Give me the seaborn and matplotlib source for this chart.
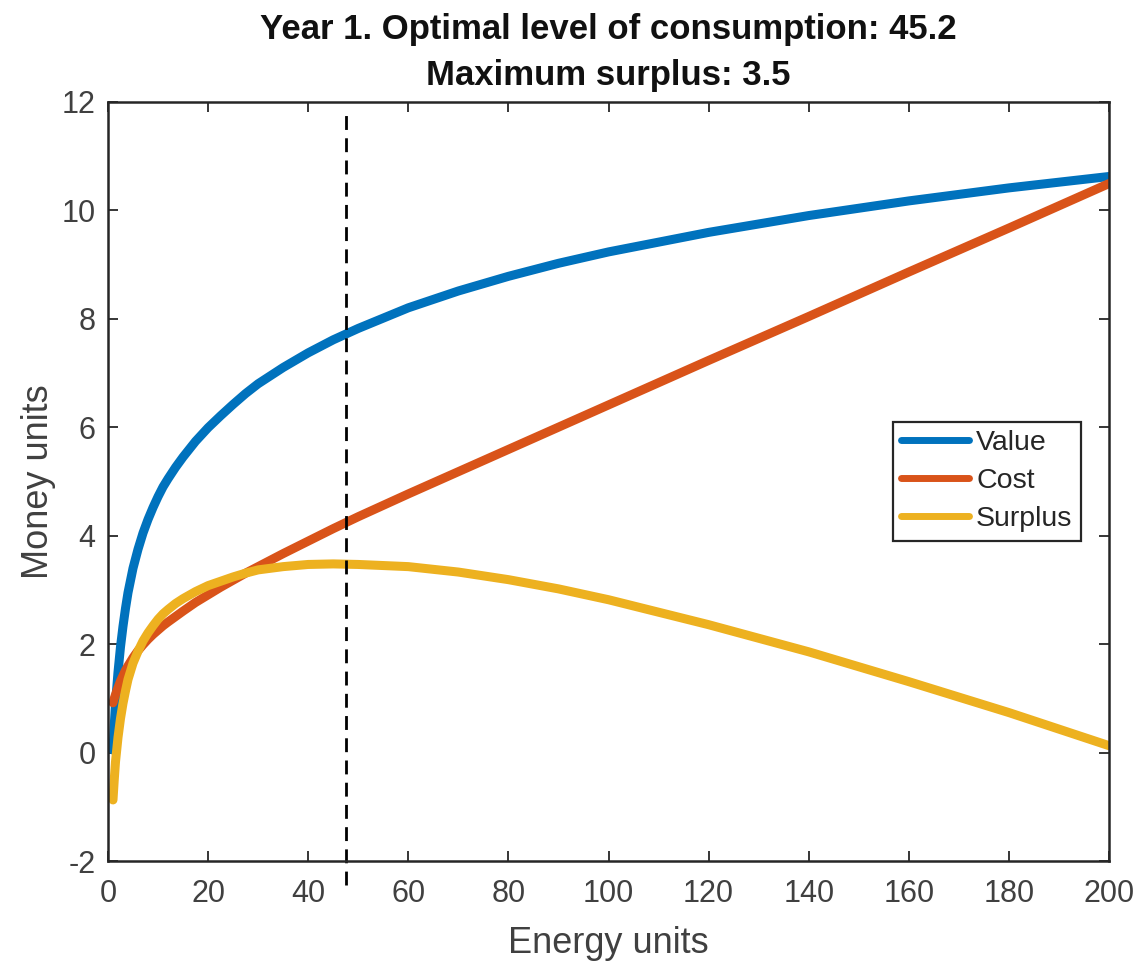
import matplotlib
matplotlib.use("Agg")
import matplotlib.pyplot as plt
import pandas as pd
import seaborn as sns

# values
energy = [1, 1.25, 1.5, 2, 2.5, 3, 3.5, 4, 5, 6, 7, 8, 9, 10, 11, 12, 13.5, 15,
          17.5, 20, 22.5, 25, 27.5, 30, 35, 40, 45, 50, 60, 70, 80, 90, 100,
          120, 140, 160, 180, 200]
value = [0.05, 0.5, 0.9, 1.48, 1.95, 2.33, 2.66, 2.95, 3.4, 3.75, 4.05, 4.3,
         4.52, 4.72, 4.9, 5.05, 5.26, 5.45, 5.74, 5.99, 6.21, 6.42, 6.62, 6.8,
         7.1, 7.37, 7.61, 7.82, 8.2, 8.51, 8.78, 9.02, 9.23, 9.59, 9.9, 10.17,
         10.41, 10.62]
cost = [0.92, 1.0, 1.07, 1.2, 1.32, 1.42, 1.52, 1.6, 1.75, 1.88, 1.99, 2.09,
        2.18, 2.26, 2.34, 2.41, 2.51, 2.61, 2.77, 2.91, 3.05, 3.18, 3.31, 3.43,
        3.67, 3.9, 4.13, 4.35, 4.77, 5.18, 5.59, 6.0, 6.41, 7.23, 8.04, 8.86,
        9.67, 10.49]
surplus = [-0.87, -0.5, -0.17, 0.28, 0.63, 0.91, 1.14, 1.35, 1.65, 1.87, 2.06,
           2.21, 2.34, 2.46, 2.56, 2.64, 2.75, 2.84, 2.97, 3.08, 3.16, 3.24,
           3.31, 3.37, 3.43, 3.47, 3.48, 3.47, 3.43, 3.33, 3.19, 3.02, 2.82,
           2.36, 1.86, 1.31, 0.74, 0.13]

series_names = ["Value", "Cost", "Surplus"]
series_colors = ["#0072BD", "#D95319", "#EDB120"]
optimum_x = 47.6
title_lines = ["Year 1. Optimal level of consumption: 45.2", "Maximum surplus: 3.5"]
x_ticks = list(range(0, 201, 20))
y_ticks = list(range(-2, 13, 2))

# long form table for seaborn
frames = []
for name, vals in zip(series_names, [value, cost, surplus]):
    frames.append(pd.DataFrame({"energy": energy, "money": vals, "series": name}))
df = pd.concat(frames, ignore_index=True)

sns.set_theme(style="ticks")
plt.rcParams['font.family'] = ['Liberation Sans', 'DejaVu Sans']
plt.rcParams['axes.unicode_minus'] = False

fig = plt.figure(figsize=(11.39, 9.65), dpi=100)
ax = fig.add_axes([0.0948, 0.1075, 0.8789, 0.7872])

sns.lineplot(data=df, x="energy", y="money", hue="series", hue_order=series_names,
             palette=series_colors, linewidth=6.5, sort=False, ax=ax)

# optimum marker, runs a little past the axes like the original
ax.axvline(optimum_x, ymin=-0.031, ymax=0.983, color="black", lw=2,
           ls=(0, (5, 3)), clip_on=False)

ax.set_xlim(0, 200)
ax.set_ylim(-2, 12)
ax.set_xticks(x_ticks)
ax.set_yticks(y_ticks)
ax.tick_params(direction="in", top=True, right=True, length=7, width=1.3,
               color="#262626", labelsize=22, labelcolor="#404040")
ax.tick_params(axis="x", pad=13)
ax.tick_params(axis="y", pad=9)
for s in ax.spines.values():
    s.set_color("#262626")
    s.set_linewidth(1.8)

ax.set_xlabel("Energy units", fontsize=26, color="#404040", labelpad=12)
ax.set_ylabel("Money units", fontsize=26, color="#404040", labelpad=4)
ax.set_title("\n".join(title_lines), fontsize=25, fontweight="bold",
             linespacing=1.5, pad=12, color="#111111")

sns.move_legend(ax, loc="upper left", bbox_to_anchor=(0.784, 0.5787), title=None,
                frameon=True, fancybox=False, framealpha=1, edgecolor="#262626",
                fontsize=20.5, handlelength=2.39, handletextpad=0.235,
                borderpad=0.3, labelspacing=0.42, borderaxespad=0)
leg = ax.get_legend()
leg.get_frame().set_linewidth(1.6)
for line in leg.get_lines():
    line.set_linewidth(5)
for t in leg.get_texts():
    t.set_color("#262626")

fig.savefig("out.png", dpi=100)
